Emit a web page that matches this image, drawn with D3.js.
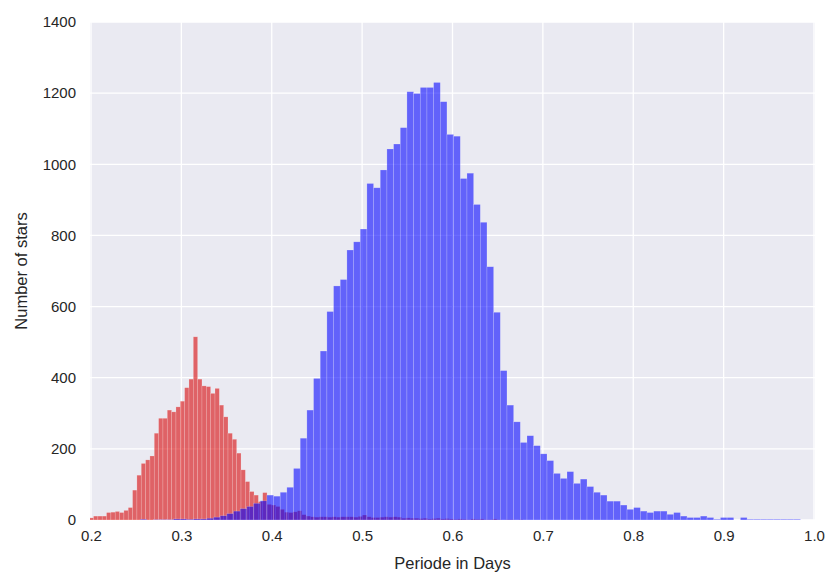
<!DOCTYPE html>
<html>
<head>
<meta charset="utf-8">
<script src="https://cdn.jsdelivr.net/npm/d3@7/dist/d3.min.js"></script>
<style>
  html, body { margin: 0; padding: 0; background: #fff; }
  svg { display: block; }
  text { font-family: "Liberation Sans", Arial, sans-serif; fill: #262626; }
</style>
</head>
<body>
<svg id="chart" width="828" height="573"></svg>
<script>
// ---- data ----
const xTicks = [0.2, 0.3, 0.4, 0.5, 0.6, 0.7, 0.8, 0.9, 1.0];
const yTicks = [0, 200, 400, 600, 800, 1000, 1200, 1400];

// red histogram (short periods): bin start and width in days
const redStart = 0.198;
const redWidth = 0.0048;
const redCounts = [
  6, 11, 11, 11, 21, 22, 24, 21, 27, 35,
  84, 126, 159, 169, 180, 244, 286, 286, 309, 304,
  318, 334, 372, 396, 515, 396, 377, 375, 356, 370,
  323, 290, 244, 227, 188, 141, 108, 80, 70, 52,
  77, 44, 42, 38, 30, 22, 21, 23, 26, 15,
  11, 9, 8, 9, 9, 8, 9, 8, 9, 9,
  9, 8, 10, 14, 9, 7, 7, 8, 9, 8,
  9, 8, 5, 6, 5, 5, 4, 5, 3, 4,
  5, 3, 4, 3, 2, 3, 2, 1, 3, 2,
  3, 1, 1, 3, 1, 0, 1, 1, 0, 1
];

// blue histogram (long periods)
const blueStart = 0.247;
const blueWidth = 0.00738;
const blueCounts = [
  0, 2, 0, 1, 1, 1, 3, 3, 2, 3,
  3, 5, 8, 12, 18, 25, 32, 38, 47, 54,
  70, 67, 78, 92, 145, 230, 309, 398, 475, 586,
  658, 676, 759, 782, 818, 946, 934, 984, 1043, 1057,
  1103, 1204, 1199, 1216, 1216, 1230, 1176, 1084, 1079, 960,
  975, 887, 837, 712, 584, 420, 323, 276, 218, 237,
  209, 186, 167, 131, 117, 136, 103, 115, 94, 78,
  70, 53, 53, 42, 30, 35, 25, 21, 25, 25,
  16, 21, 11, 7, 7, 11, 7, 2, 7, 7,
  0, 7, 2, 2, 2, 2, 2, 2, 2, 2
];

const xLabel = "Periode in Days";
const yLabel = "Number of stars";

// ---- layout ----
const L = 90, T = 22, R = 815, B = 520;
const svg = d3.select("#chart");

const x = d3.scaleLinear().domain([0.2, 1.0]).range([L + 1, R - 1]);
const y = d3.scaleLinear().domain([0, 1400]).range([B, T]);

svg.append("rect")
  .attr("x", L).attr("y", T).attr("width", R - L).attr("height", B - T)
  .attr("fill", "#EAEAF2");

svg.append("defs").append("clipPath").attr("id", "clip")
  .append("rect").attr("x", L).attr("y", T).attr("width", R - L).attr("height", B - T);

// grid
const grid = svg.append("g");
grid.selectAll(".vg").data(xTicks).join("line")
  .attr("x1", d => x(d)).attr("x2", d => x(d))
  .attr("y1", T).attr("y2", B)
  .attr("stroke", "#fff").attr("stroke-width", 1.3);
grid.selectAll(".hg").data(yTicks).join("line")
  .attr("x1", L).attr("x2", R)
  .attr("y1", d => y(d)).attr("y2", d => y(d))
  .attr("stroke", "#fff").attr("stroke-width", 1.3);

const plot = svg.append("g").attr("clip-path", "url(#clip)");

function drawHist(counts, start, width, color) {
  const bins = counts.map((c, i) => ({x0: start + i * width, x1: start + (i + 1) * width, c}));
  plot.append("g").selectAll("rect").data(bins.filter(b => b.c > 0)).join("rect")
    .attr("x", b => x(b.x0))
    .attr("width", b => x(b.x1) - x(b.x0))
    .attr("y", b => y(b.c))
    .attr("height", b => y(0) - y(b.c))
    .attr("fill", color)
    .attr("fill-opacity", 0.58)
    .attr("stroke", "#ffffff")
    .attr("stroke-opacity", 0.3)
    .attr("stroke-width", 0.6);
}
drawHist(redCounts, redStart, redWidth, "rgb(215,0,0)");
drawHist(blueCounts, blueStart, blueWidth, "rgb(0,0,255)");

// axes
const xAxis = d3.axisBottom(x).tickValues(xTicks).tickFormat(d3.format(".1f")).tickSize(0).tickPadding(10);
const gx = svg.append("g").attr("transform", `translate(0,${B})`).call(xAxis);
gx.select(".domain").remove();
gx.selectAll("text").attr("font-size", 15).attr("fill", "#262626")
  .attr("font-family", '"Liberation Sans", Arial, sans-serif');

const yAxis = d3.axisLeft(y).tickValues(yTicks).tickFormat(d3.format("d")).tickSize(0).tickPadding(14);
const gy = svg.append("g").attr("transform", `translate(${L},0)`).call(yAxis);
gy.select(".domain").remove();
gy.selectAll("text").attr("font-size", 15).attr("fill", "#262626")
  .attr("font-family", '"Liberation Sans", Arial, sans-serif');

svg.append("text")
  .attr("x", (L + R) / 2).attr("y", 569)
  .attr("text-anchor", "middle").attr("font-size", 16.5)
  .text(xLabel);

svg.append("text")
  .attr("transform", `translate(27,${(T + B) / 2}) rotate(-90)`)
  .attr("text-anchor", "middle").attr("font-size", 16.5)
  .text(yLabel);
</script>
</body>
</html>
